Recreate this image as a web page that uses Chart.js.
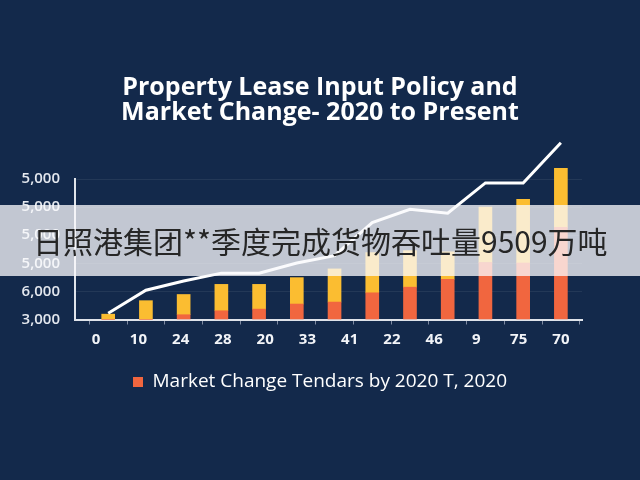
<!DOCTYPE html>
<html lang="en">
<head>
    <meta charset="UTF-8">
    <title>Property Lease Input Policy and Market Change</title>
    <script src="https://cdn.jsdelivr.net/npm/chart.js"></script>
    <style>
        body { margin: 0; background: #13294b; }
        #wrap { position: relative; width: 640px; height: 480px; }
        #leaseChart { display: block; }
        /* watermark banner across the middle */
        .banner {
            position: absolute; left: 0; top: 205px; width: 640px; height: 71px;
            background: rgba(250, 250, 252, 0.76);
            font-family: "Noto Sans CJK SC", sans-serif; font-size: 30px;
            color: #262626; line-height: 71px; padding-left: 33px; box-sizing: border-box;
            white-space: nowrap;
        }
    </style>
</head>
<body>
    <div id="wrap">
        <canvas id="leaseChart" width="640" height="480"></canvas>
        <div class="banner">日照港集团**季度完成货物吞吐量9509万吨</div>
    </div>

    <script>
        // values (y in tick steps, bottom tick = 0)
        const xLabels = ['0', '10', '24', '28', '20', '33', '41', '22', '46', '9', '75', '70'];
        const yTickLabels = ['3,000', '6,000', '5,000', '5,000', '5,000', '5,000'];
        const marketChange = [0, 0, 0.17, 0.31, 0.37, 0.55, 0.62, 0.95, 1.15, 1.43, 2.03, 2.01, 3.28];
        const policyInput = [0.19, 0.67, 0.72, 0.94, 0.88, 0.94, 1.18, 1.43, 1.30, 0.98, 1.97, 2.27, 2.10];
        const trendLine = [0.22, 1.04, 1.37, 1.65, 1.65, 2.01, 2.27, 3.45, 3.92, 3.78, 4.86, 4.86, 6.29];

        const toPoints = arr => arr.map((v, i) => ({ x: i, y: v }));
        const tickFont = { family: 'Open Sans', size: 15, weight: '600' };

        const ctx = document.getElementById('leaseChart').getContext('2d');
        new Chart(ctx, {
            type: 'bar',
            data: {
                datasets: [
                    {
                        label: 'Market Change Tendars by 2020 T, 2020',
                        data: toPoints(marketChange),
                        backgroundColor: '#f1663f',
                        barThickness: 13,
                        clip: false,
                        order: 1
                    },
                    {
                        label: 'Lease Input Policy',
                        data: toPoints(policyInput),
                        backgroundColor: '#fbbd31',
                        barThickness: 13,
                        clip: false,
                        order: 1
                    },
                    {
                        type: 'line',
                        label: 'Trend',
                        data: toPoints(trendLine),
                        borderColor: '#ffffff',
                        borderWidth: 3,
                        pointRadius: 0,
                        tension: 0,
                        clip: false,
                        order: 0
                    }
                ]
            },
            options: {
                responsive: false,
                animation: false,
                layout: { padding: { top: 75.5, left: 19, right: 19, bottom: 78.5 } },
                scales: {
                    x: {
                        type: 'linear',
                        position: 'bottom',
                        min: -0.88,
                        max: 12.56,
                        offset: false,
                        stacked: true,
                        weight: 0,
                        // small tick marks sit between the bars
                        afterBuildTicks: scale => {
                            scale.ticks = [-0.5].concat(marketChange.map((_, i) => i + 0.5)).map(v => ({ value: v }));
                        },
                        ticks: { display: false },
                        grid: { offset: false, drawOnChartArea: false, drawTicks: true, tickLength: 5, color: '#7f8ba3' },
                        border: { color: '#dfe3ea', width: 2 }
                    },
                    x2: {
                        type: 'category',
                        position: 'bottom',
                        labels: xLabels,
                        offset: true,
                        weight: 1,
                        grid: { display: false },
                        border: { display: false },
                        ticks: { color: '#f2f4f8', font: { family: 'Open Sans', size: 15, weight: 'bold' }, padding: -2 }
                    },
                    y: {
                        type: 'linear',
                        min: 0,
                        max: 5,
                        stacked: true,
                        afterFit: scale => { scale.width = 56; },
                        ticks: {
                            stepSize: 1,
                            color: '#e4e8ef',
                            font: tickFont,
                            padding: 15,
                            callback: (value, index) => yTickLabels[index]
                        },
                        grid: { color: 'rgba(255,255,255,0.07)', drawTicks: false },
                        border: { color: '#dfe3ea', width: 2 }
                    },
                    y2: {
                        type: 'linear',
                        position: 'right',
                        min: 0,
                        max: 1,
                        afterFit: scale => { scale.width = 39; },
                        ticks: { display: false },
                        grid: { display: false },
                        border: { display: false }
                    }
                },
                plugins: {
                    title: {
                        display: true,
                        text: ['Property Lease Input Policy and', 'Market Change- 2020 to Present'],
                        color: '#ffffff',
                        font: { family: 'Open Sans', size: 25, weight: 'bold', lineHeight: 1.0 },
                        padding: { top: 0, bottom: 53.5 }
                    },
                    legend: {
                        position: 'bottom',
                        labels: {
                            color: '#ffffff',
                            font: { family: 'Open Sans', size: 19 },
                            boxWidth: 10,
                            boxHeight: 10,
                            padding: 26,
                            filter: item => item.datasetIndex === 0
                        }
                    },
                    tooltip: { enabled: false }
                }
            }
        });
    </script>
</body>
</html>
